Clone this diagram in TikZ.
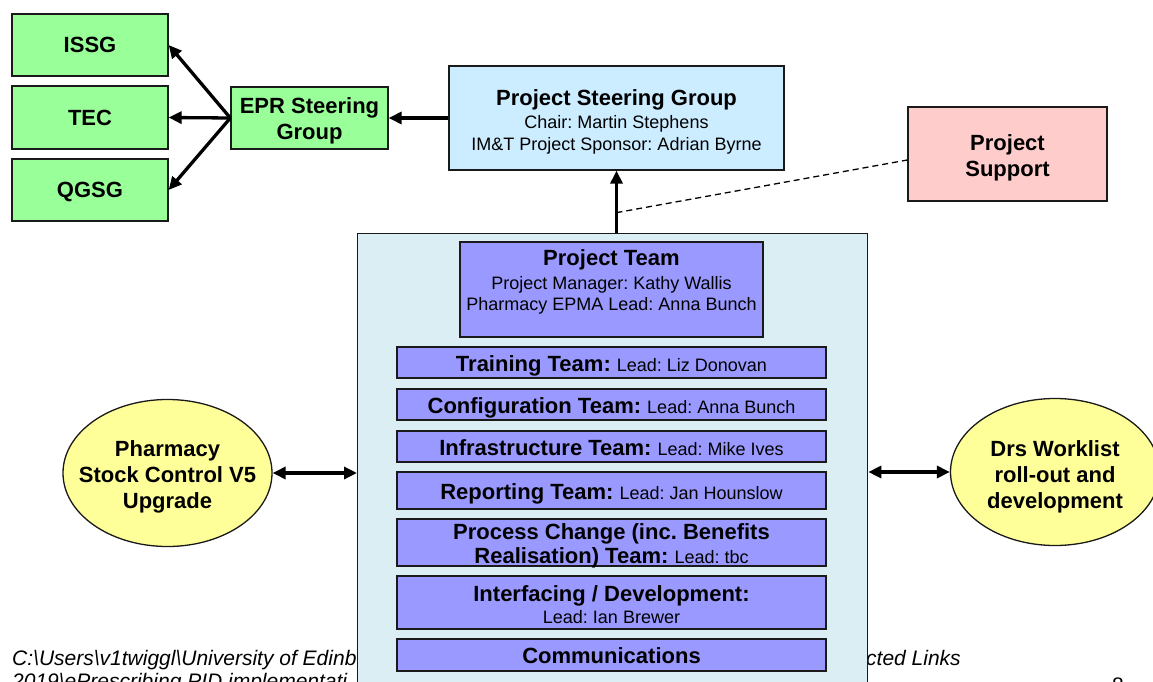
\documentclass[tikz,border=0pt]{standalone}
\usepackage{fontspec}
\setmainfont{Liberation Sans}
\usetikzlibrary{arrows.meta,shapes.geometric}
\frenchspacing

\definecolor{grnfill}{HTML}{99FF99}
\definecolor{skyfill}{HTML}{CCECFF}
\definecolor{pinkfill}{HTML}{FFCCCC}
\definecolor{panelfill}{HTML}{DAEEF3}
\definecolor{lavfill}{HTML}{9999FF}
\definecolor{yelfill}{HTML}{FFFF99}
\definecolor{edge}{HTML}{1A1A1A}

\newcommand\headf{\fontsize{22}{26}\selectfont\bfseries}
\newcommand\bodyf{\fontsize{18}{22}\selectfont\mdseries}
\newcommand\footf{\fontsize{21}{22}\selectfont\itshape}

\tikzset{
  box/.style={draw=edge, line width=1.3pt, inner sep=0pt, align=center, font=\headf,
              text height=15pt, text depth=0pt},
  lbl/.style={inner sep=0pt, align=center, font=\headf},
  row/.style={box, fill=lavfill, minimum width=429pt, text height=17.5pt},
  oval/.style={draw=edge, line width=1.3pt, ellipse, fill=yelfill, inner sep=0pt,
               minimum width=209pt, minimum height=147pt},
  link/.style={line width=3.3pt, -{Triangle[length=13pt,width=12pt]}},
  twoway/.style={line width=3.3pt, {Triangle[length=13pt,width=12pt]}-{Triangle[length=13pt,width=12pt]}},
  foot/.style={anchor=base west, inner sep=0pt, font=\footf}
}

\begin{document}
\begin{tikzpicture}[x=1pt,y=-1pt]
\clip (0,0) rectangle (1153,682);
\fill[white] (0,0) rectangle (1153,682);

% footer lines of the page, partly covered by the team panel
\node[foot] (foot1) at (12,665) {C:\textbackslash Users\textbackslash v1twiggl\textbackslash University of Edinb};
\node[foot] (foot2) at (12,688) {2019\textbackslash ePrescribing PID implementati};
\node[foot] (foot3) at (866,665) {cted Links};
\node[foot, font=\fontsize{21}{22}\selectfont] (pageno) at (1112,692) {8};

% governance groups
\node[box, fill=grnfill, minimum width=156pt, minimum height=62pt] (issg) at (90,45) {ISSG};
\node[box, fill=grnfill, minimum width=156pt, minimum height=63pt] (tec) at (90,117.5) {TEC};
\node[box, fill=grnfill, minimum width=156pt, minimum height=62pt] (qgsg) at (90,190) {QGSG};
\node[box, fill=grnfill, minimum width=157pt, minimum height=62pt] (epr) at (309.5,118) {};
\node[lbl] (eprtext) at ([yshift=-3pt]epr.center) {EPR Steering\\Group};

\node[box, fill=skyfill, minimum width=335pt, minimum height=104pt] (psg) at (616.5,118) {};
\node[lbl] (psgtext) at ([yshift=-4pt]psg.center)
  {Project Steering Group\\[-3pt]{\bodyf Chair: Martin Stephens}\\[-4pt]{\bodyf IM\&T Project Sponsor: Adrian Byrne}};

\node[box, fill=pinkfill, minimum width=199pt, minimum height=94pt] (support) at (1007.5,154) {};
\node[lbl] (supporttext) at ([yshift=-3.5pt]support.center) {Project\\Support};

% project team panel
\node[box, fill=panelfill, minimum width=510pt, minimum height=480pt, anchor=north west] (panel) at (357,233) {};

\node[box, fill=lavfill, minimum width=303pt, minimum height=95pt] (teambox) at (611.5,289.5) {};
\node[lbl, anchor=north] (teamtext) at ([yshift=-8pt]teambox.north)
  {Project Team\\[-2pt]{\bodyf Project Manager: Kathy Wallis}\\[-5pt]{\bodyf Pharmacy EPMA Lead: Anna Bunch}};

\node[row, minimum height=31pt] (training) at (611.5,362.5) {Training Team: {\bodyf Lead: Liz Donovan}};
\node[row, minimum height=31pt] (config) at (611.5,404.5) {Configuration Team: {\bodyf Lead: Anna Bunch}};
\node[row, minimum height=31pt] (infra) at (611.5,446.5) {Infrastructure Team: {\bodyf Lead: Mike Ives}};
\node[row, minimum height=37pt] (report) at (611.5,490.5) {Reporting Team: {\bodyf Lead: Jan Hounslow}};
\node[row, minimum height=47pt] (process) at (611.5,542.5) {};
\node[lbl, anchor=north, font=\fontsize{22}{24}\selectfont\bfseries] (processtext) at ([yshift=-5pt]process.north)
  {Process Change (inc. Benefits\\Realisation) Team: {\bodyf Lead: tbc}};
\node[row, minimum height=53pt] (iface) at (611.5,602.5) {};
\node[lbl] (ifacetext) at ([yshift=-2.5pt]iface.center)
  {Interfacing / Development:\\[-4pt]{\bodyf Lead: Ian Brewer}};
\node[row, minimum height=32pt] (comms) at (611.5,655) {Communications};

% linked projects
\node[oval] (pharm) at (167.5,473) {};
\node[lbl] (pharmtext) at ([yshift=-4pt]pharm.center) {Pharmacy\\Stock Control V5\\Upgrade};
\node[oval] (drs) at (1055,472) {};
\node[lbl] (drstext) at ([yshift=-4.5pt]drs.center) {Drs Worklist\\roll-out and\\development};

% connectors
\draw[link] (epr.west) -- (issg.east);
\draw[link] (epr.west) -- (tec.east);
\draw[link] (epr.west) -- (qgsg.east);
\draw[link] (psg.west) -- (epr.east);
\draw[link] (panel.north -| psg.south) -- (psg.south);
\coordinate (tap) at ([yshift=-42pt]psg.south);
\draw[line width=1.3pt, dash pattern=on 6pt off 4pt] (tap) -- ([yshift=-6pt]support.west);
\draw[twoway] (pharm.east) -- (pharm.east -| panel.west);
\draw[twoway] (drs.west -| panel.east) -- (drs.west);
\end{tikzpicture}
\end{document}
